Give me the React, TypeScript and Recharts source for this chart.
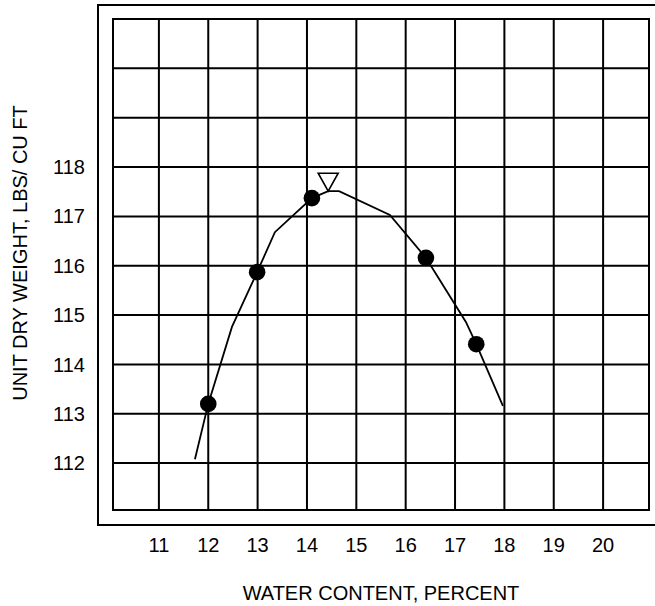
import { ComposedChart, Line, Scatter, XAxis, YAxis, CartesianGrid, ReferenceArea } from 'recharts';

// water content (%) vs unit dry weight (lbs/cu ft)
const waterContent = [12.0, 12.99, 14.1, 16.41, 17.43];
const dryWeight = [113.2, 115.87, 117.37, 116.16, 114.41];

// the drawn compaction curve
const curveX = [11.73, 12.0, 12.48, 12.99, 13.35, 14.1, 14.43, 14.65, 15.68, 16.41, 17.22, 17.43, 17.97];
const curveY = [112.08, 113.2, 114.76, 115.87, 116.68, 117.37, 117.51, 117.51, 117.03, 116.16, 114.86, 114.41, 113.16];

// max dry density marker
const peakX = [14.43];
const peakY = [117.51];

const xTicks = [11, 12, 13, 14, 15, 16, 17, 18, 19, 20];
const yTicks = [112, 113, 114, 115, 116, 117, 118, 119, 120];
const yLabeled = [112, 113, 114, 115, 116, 117, 118];
const xDomain = [10.07, 20.93];
const yDomain = [111.05, 121.0];

const points = waterContent.map((x, i) => ({ x, y: dryWeight[i] }));
const curve = curveX.map((x, i) => ({ x, y: curveY[i] }));
const peak = peakX.map((x, i) => ({ x, y: peakY[i] }));

const FONT = '"Liberation Sans", Arial, sans-serif';

const Dot = (props: any) => <circle cx={props.cx} cy={props.cy} r={8.3} fill="#000" />;

const Triangle = (props: any) => {
    const { cx, cy } = props;
    return (
        <path
            d={`M${cx - 10},${cy - 18} L${cx + 10},${cy - 18} L${cx},${cy} Z`}
            fill="#fff"
            stroke="#000"
            strokeWidth={1.6}
        />
    );
};

const XTitle = (props: any) => {
    const vb = props.viewBox || { x: 113, width: 536 };
    return (
        <text x={vb.x + vb.width / 2} y={600} textAnchor="middle" fontFamily={FONT} fontSize={20} fill="#000">
            WATER CONTENT, PERCENT
        </text>
    );
};

const YTitle = () => (
    <text transform="translate(27,253) rotate(-90)" textAnchor="middle" fontFamily={FONT} fontSize={20} fill="#000">
        UNIT DRY WEIGHT, LBS/ CU FT
    </text>
);

export default function App() {
    return (
        <div style={{ position: 'absolute', left: 0, top: 0, width: 655, height: 606, overflow: 'hidden', background: '#fff' }}>
            <div
                style={{
                    position: 'absolute',
                    left: 97,
                    top: 4,
                    width: 600,
                    height: 518,
                    borderTop: '2px solid #000',
                    borderLeft: '2px solid #000',
                    borderBottom: '2px solid #000',
                }}
            />
            <div style={{ position: 'absolute', left: 0, top: 0 }}>
                <ComposedChart width={655} height={606} margin={{ top: 19, right: 6, bottom: 46, left: 13 }}>
                    <CartesianGrid stroke="#000" strokeWidth={2} fill="none" />
                    <XAxis
                        type="number"
                        dataKey="x"
                        domain={xDomain}
                        ticks={xTicks}
                        allowDataOverflow
                        axisLine={false}
                        tickLine={false}
                        tickSize={0}
                        tickMargin={28}
                        height={50}
                        tick={{ fill: '#000', fontSize: 20, fontFamily: FONT }}
                        label={{ content: <XTitle /> }}
                    />
                    <YAxis
                        type="number"
                        dataKey="y"
                        domain={yDomain}
                        ticks={yTicks}
                        allowDataOverflow
                        axisLine={false}
                        tickLine={false}
                        tickSize={0}
                        tickMargin={28}
                        width={100}
                        tickFormatter={(v: number) => (yLabeled.includes(v) ? String(v) : '')}
                        tick={{ fill: '#000', fontSize: 20, fontFamily: FONT }}
                        label={{ content: <YTitle /> }}
                    />
                    <ReferenceArea
                        x1={xDomain[0]}
                        x2={xDomain[1]}
                        y1={yDomain[0]}
                        y2={yDomain[1]}
                        fill="none"
                        fillOpacity={0}
                        stroke="#000"
                        strokeWidth={2}
                        ifOverflow="visible"
                    />
                    <Line
                        data={curve}
                        dataKey="y"
                        type="linear"
                        stroke="#000"
                        strokeWidth={1.8}
                        dot={false}
                        activeDot={false}
                        isAnimationActive={false}
                    />
                    <Scatter data={points} dataKey="y" shape={<Dot />} isAnimationActive={false} />
                    <Scatter data={peak} dataKey="y" shape={<Triangle />} isAnimationActive={false} />
                </ComposedChart>
            </div>
        </div>
    );
}
